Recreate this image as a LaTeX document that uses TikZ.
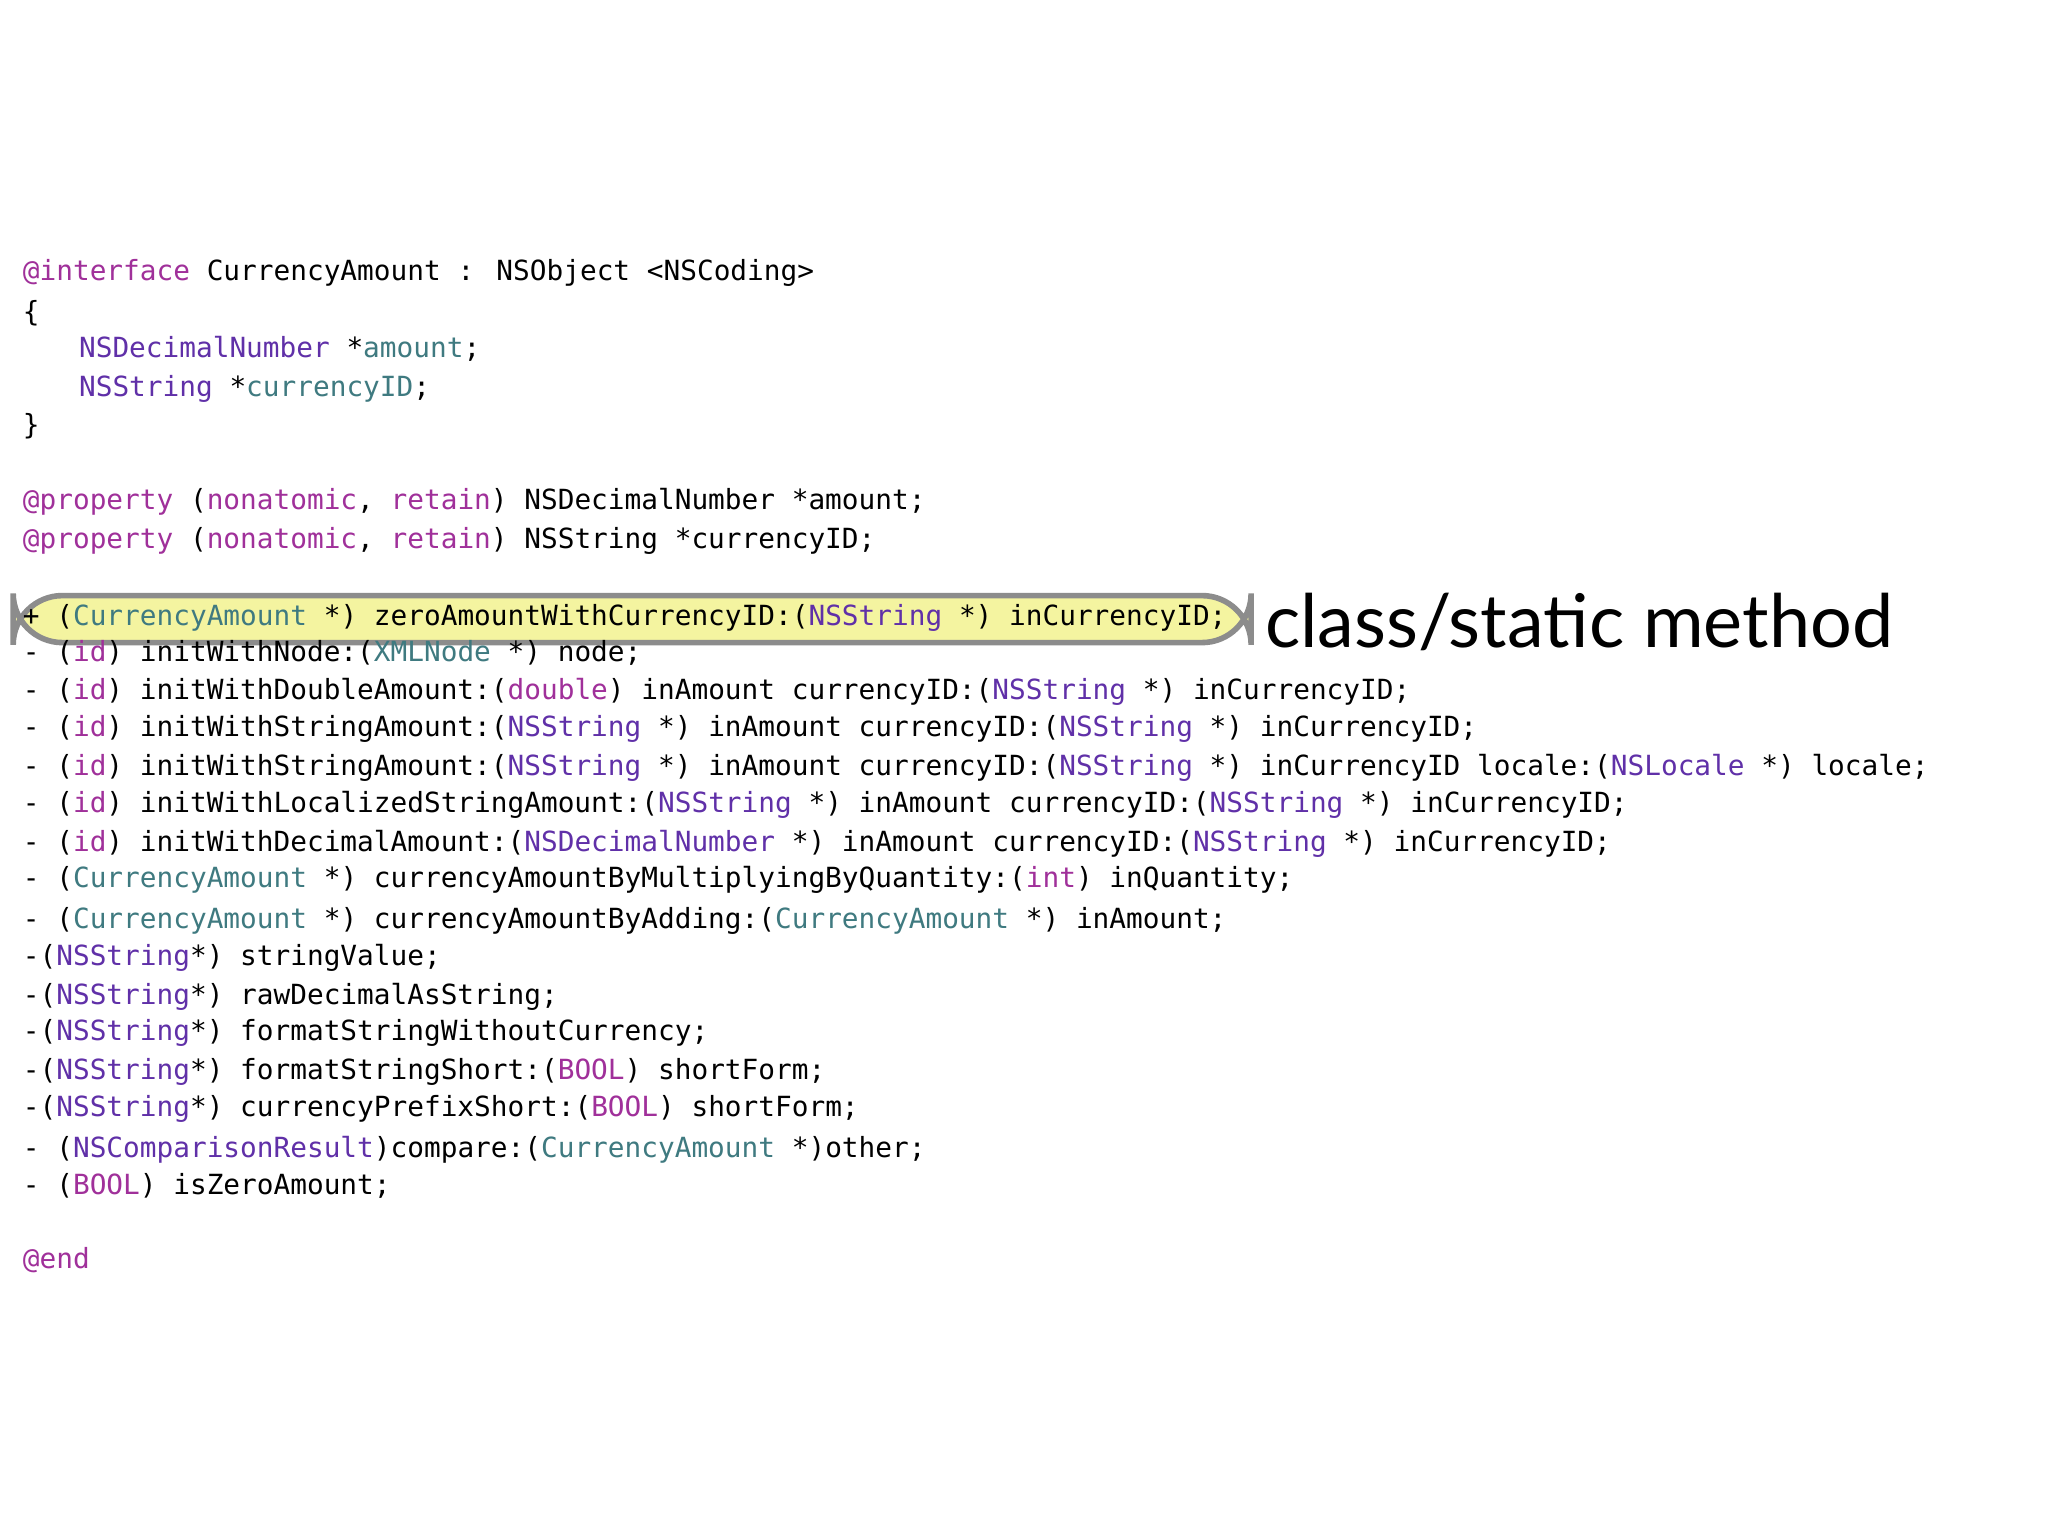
\documentclass[tikz,border=0pt]{standalone}
\usepackage{fontspec}
\setmainfont{Lato}
\newfontfamily\code{DejaVu Sans Mono}
\definecolor{kwc}{HTML}{A0309A}
\definecolor{clc}{HTML}{6030A8}
\definecolor{ucc}{HTML}{3F7A80}
\definecolor{hl}{HTML}{F4F4A0}
\newcommand{\kw}[1]{\textcolor{kwc}{#1}}
\newcommand{\cl}[1]{\textcolor{clc}{#1}}
\newcommand{\uc}[1]{\textcolor{ucc}{#1}}
\tikzset{ln/.style={anchor=west,inner sep=0pt,font=\code\fontsize{7.9pt}{9pt}\selectfont}}
\begin{document}
\begin{tikzpicture}[x=0.013061cm,y=-0.013061cm]
\fill[white] (0,0) rectangle (1568,1176);
\node[draw=black!45,line width=1.6pt,fill=hl,rounded corners=14pt,minimum width=948\pgflinewidth,inner sep=0pt] (box) at (484,474) [minimum width=12.38cm,minimum height=0.47cm] {};
\node[ln] (l1) at (17,209) {\kw{@interface} CurrencyAmount : NSObject <NSCoding>};
\node[ln] (l2) at (17,240) {\{};
\node[ln] (l3) at (60,267) {\cl{NSDecimalNumber} *\uc{amount};};
\node[ln] (l4) at (60,298) {\cl{NSString} *\uc{currencyID};};
\node[ln] (l5) at (17,326) {\}};
\node[ln] (l6) at (17,384) {\kw{@property} (\kw{nonatomic}, \kw{retain}) NSDecimalNumber *amount;};
\node[ln] (l7) at (17,414) {\kw{@property} (\kw{nonatomic}, \kw{retain}) NSString *currencyID;};
\node[ln] (l8) at (17,473) {+ (\uc{CurrencyAmount} *) zeroAmountWithCurrencyID:(\cl{NSString} *) inCurrencyID;};
\node[ln] (l9) at (17,500) {- (\kw{id}) initWithNode:(\uc{XMLNode} *) node;};
\node[ln] (l10) at (17,530) {- (\kw{id}) initWithDoubleAmount:(\kw{double}) inAmount currencyID:(\cl{NSString} *) inCurrencyID;};
\node[ln] (l11) at (17,558) {- (\kw{id}) initWithStringAmount:(\cl{NSString} *) inAmount currencyID:(\cl{NSString} *) inCurrencyID;};
\node[ln] (l12) at (17,588) {- (\kw{id}) initWithStringAmount:(\cl{NSString} *) inAmount currencyID:(\cl{NSString} *) inCurrencyID locale:(\cl{NSLocale} *) locale;};
\node[ln] (l13) at (17,616) {- (\kw{id}) initWithLocalizedStringAmount:(\cl{NSString} *) inAmount currencyID:(\cl{NSString} *) inCurrencyID;};
\node[ln] (l14) at (17,646) {- (\kw{id}) initWithDecimalAmount:(\cl{NSDecimalNumber} *) inAmount currencyID:(\cl{NSString} *) inCurrencyID;};
\node[ln] (l15) at (17,674) {- (\uc{CurrencyAmount} *) currencyAmountByMultiplyingByQuantity:(\kw{int}) inQuantity;};
\node[ln] (l16) at (17,705) {- (\uc{CurrencyAmount} *) currencyAmountByAdding:(\uc{CurrencyAmount} *) inAmount;};
\node[ln] (l17) at (17,733) {-(\cl{NSString}*) stringValue;};
\node[ln] (l18) at (17,763) {-(\cl{NSString}*) rawDecimalAsString;};
\node[ln] (l19) at (17,791) {-(\cl{NSString}*) formatStringWithoutCurrency;};
\node[ln] (l20) at (17,821) {-(\cl{NSString}*) formatStringShort:(\kw{BOOL}) shortForm;};
\node[ln] (l21) at (17,849) {-(\cl{NSString}*) currencyPrefixShort:(\kw{BOOL}) shortForm;};
\node[ln] (l22) at (17,880) {- (\cl{NSComparisonResult})compare:(\uc{CurrencyAmount} *)other;};
\node[ln] (l23) at (17,908) {- (\kw{BOOL}) isZeroAmount;};
\node[ln] (l24) at (17,965) {\kw{@end}};
\node[anchor=west,inner sep=0pt,font=\fontsize{21pt}{24pt}\selectfont] (lab) at (968,476) {class/static method};
\end{tikzpicture}
\end{document}
